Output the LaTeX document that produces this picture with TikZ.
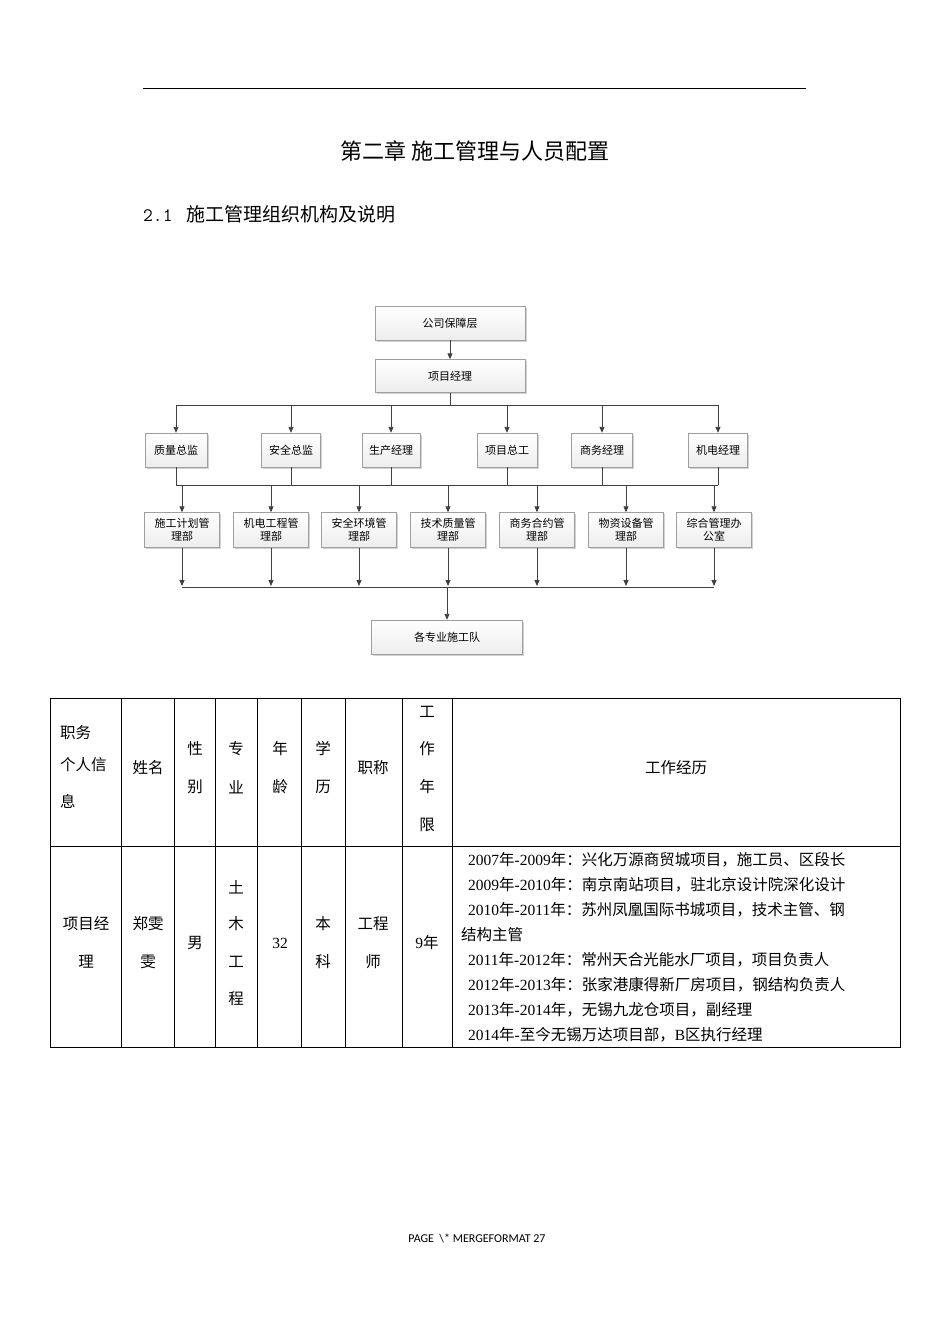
\documentclass[tikz,border=0pt]{standalone}
\usepackage{fontspec}
\setmainfont{Noto Sans CJK SC}
\newfontfamily\serifcjk{Noto Sans CJK SC}[Scale=0.95]
\newfontfamily\latinser{Liberation Serif}
\newfontfamily\footf{Carlito}
\usetikzlibrary{arrows.meta,shadows}
\begin{document}
\begin{tikzpicture}[x=1pt,y=-1pt,
  box/.style={draw=gray!75,top color=white,bottom color=gray!14,drop shadow={opacity=0.35,shadow xshift=1.5pt,shadow yshift=-1.5pt},
    font=\fontsize{11}{13}\selectfont,align=center,inner sep=1pt},
  arr/.style={draw=black!75,line width=0.9pt,-{Triangle[length=6pt,width=5pt]}},
  ln/.style={draw=black!75,line width=0.9pt},
  tx/.style={font=\fontsize{15.5}{17}\selectfont,inner sep=0pt},
  ex/.style={font=\fontsize{15.5}{17}\selectfont,inner sep=0pt,anchor=west}]
\useasboundingbox (0,0) rectangle (950,1344);
\fill[white] (0,0) rectangle (950,1344);
\draw[line width=1pt] (143,88) -- (806,88);
\node[font=\fontsize{22}{24}\selectfont] (title) at (475,151) {第二章\ 施工管理与人员配置};
\node[font=\fontsize{19}{22}\selectfont,anchor=west,inner sep=0pt] (sec) at (143,214) {{\ttfamily 2.1}\hspace{14pt}施工管理组织机构及说明};
% org chart
\node[box,minimum width=150pt,minimum height=34pt] (a) at (450,323) {公司保障层};
\node[box,minimum width=150pt,minimum height=33pt] (b) at (450,376) {项目经理};
\foreach \n/\x/\w/\t in {c1/176/62/质量总监,c2/291/59/安全总监,c3/391/58/生产经理,c4/507/60/项目总工,c5/602/61/商务经理,c6/718/59/机电经理}
  \node[box,minimum width=\w pt,minimum height=34pt] (\n) at (\x,450) {\t};
\foreach \n/\x/\t in {d1/182/施工计划管\\理部,d2/271/机电工程管\\理部,d3/359/安全环境管\\理部,d4/448/技术质量管\\理部,d5/537/商务合约管\\理部,d6/626/物资设备管\\理部,d7/714/综合管理办\\公室}
  \node[box,minimum width=75pt,minimum height=35pt] (\n) at (\x,530) {\t};
\node[box,minimum width=151pt,minimum height=34pt] (e) at (447,637) {各专业施工队};
\draw[arr] (a) -- (b);
\coordinate (bj) at (450,405);
\draw[ln] (b.south) -- (bj);
\draw[ln] (176,405) -- (718,405);
\foreach \n in {c1,c2,c3,c4,c5,c6} \draw[arr] (\n.north |- bj) -- (\n.north);
\foreach \n in {c1,c2,c3,c4,c5,c6} \draw[ln] (\n.south) -- (\n.south |- 0,485);
\draw[ln] (176,485) -- (718,485);
\foreach \n in {d1,d2,d3,d4,d5,d6,d7} \draw[arr] (\n.north |- 0,485) -- (\n.north);
\foreach \n in {d1,d2,d3,d4,d5,d6,d7} \draw[arr] (\n.south) -- (\n.south |- 0,586);
\draw[ln] (182,587) -- (714,587);
\coordinate (ej) at (447,587);
\draw[arr] (ej) -- (e.north);
% table
\draw[line width=0.8pt] (50,698) rectangle (900,1047);
\draw[line width=0.8pt] (50,846) -- (900,846);
\foreach \x in {121,174,215,257,301,345,402,452} \draw[line width=0.8pt] (\x,698) -- (\x,1047);
\node[tx,anchor=west] (h1a) at (60,733) {职务};
\node[tx,anchor=west] (h1b) at (60,765) {个人信};
\node[tx,anchor=west] (h1c) at (60,801) {息};
\node[tx] (h2) at (148,768) {姓名};
\node[tx] (h3a) at (195,749) {性}; \node[tx] (h3b) at (195,787) {别};
\node[tx] (h4a) at (236,749) {专}; \node[tx] (h4b) at (236,787) {业};
\node[tx] (h5a) at (280,749) {年}; \node[tx] (h5b) at (280,787) {龄};
\node[tx] (h6a) at (323,749) {学}; \node[tx] (h6b) at (323,787) {历};
\node[tx] (h7) at (373,768) {职称};
\node[tx] (h8a) at (427,712) {工}; \node[tx] (h8b) at (427,749) {作};
\node[tx] (h8c) at (427,787) {年}; \node[tx] (h8d) at (427,825) {限};
\node[tx] (h9) at (676,768) {工作经历};
\node[tx] (r1a) at (86,924) {项目经}; \node[tx] (r1b) at (86,962) {理};
\node[tx] (r2a) at (148,924) {郑雯}; \node[tx] (r2b) at (148,962) {雯};
\node[tx] (r3) at (195,943) {男};
\node[tx] (r4a) at (236,887) {土}; \node[tx] (r4b) at (236,924) {木};
\node[tx] (r4c) at (236,962) {工}; \node[tx] (r4d) at (236,999) {程};
\node[tx] (r5) at (280,943) {\latinser 32};
\node[tx] (r6a) at (323,924) {本}; \node[tx] (r6b) at (323,962) {科};
\node[tx] (r7a) at (373,924) {工程}; \node[tx] (r7b) at (373,962) {师};
\node[tx] (r8) at (427,943) {{\latinser 9}年};
\node[ex] (x1) at (468,860) {{\latinser 2007}年{\latinser -2009}年：兴化万源商贸城项目，施工员、区段长};
\node[ex] (x2) at (468,885) {{\latinser 2009}年{\latinser -2010}年：南京南站项目，驻北京设计院深化设计};
\node[ex] (x3) at (468,910) {{\latinser 2010}年{\latinser -2011}年：苏州凤凰国际书城项目，技术主管、钢};
\node[ex] (x4) at (461,935) {结构主管};
\node[ex] (x5) at (468,960) {{\latinser 2011}年{\latinser -2012}年：常州天合光能水厂项目，项目负责人};
\node[ex] (x6) at (468,985) {{\latinser 2012}年{\latinser -2013}年：张家港康得新厂房项目，钢结构负责人};
\node[ex] (x7) at (468,1010) {{\latinser 2013}年{\latinser -2014}年，无锡九龙仓项目，副经理};
\node[ex] (x8) at (468,1035) {{\latinser 2014}年{\latinser -}至今无锡万达项目部，{\latinser B}区执行经理};
\node[font=\footf\fontsize{12}{14}\selectfont] (foot) at (477,1238) {PAGE \ \textbackslash* MERGEFORMAT 27};
\end{tikzpicture}
\end{document}
